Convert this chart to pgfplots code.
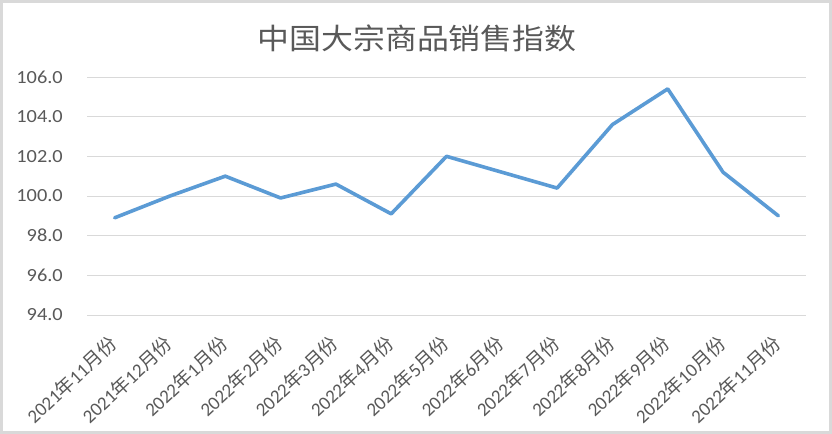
\documentclass[border=0pt]{standalone}
\usepackage{pgfplots}
\pgfplotsset{compat=1.18}
\usepackage{fontspec}
\setmainfont{Carlito}
\newfontfamily\cjk{Noto Sans CJK SC}
\definecolor{linblue}{HTML}{5B9BD5}
\definecolor{txtgray}{HTML}{595959}
\definecolor{gridgray}{HTML}{D9D9D9}
\newcommand\lab[2]{#1{\cjk 年}#2{\cjk 月份}}

\begin{document}
\begin{tikzpicture}
\path[use as bounding box] (0,0) rectangle (832bp,434bp);
\fill[white] (0,0) rectangle (832bp,434bp);
\draw[gridgray, line width=3bp] (1.5bp,1.5bp) rectangle (830.5bp,432.5bp);
\node[txtgray, font=\fontsize{29bp}{32bp}\selectfont\cjk] at (417bp,396bp)
    {\scalebox{1.1}[1]{中国大宗商品销售指数}};
\begin{axis}[
    at={(87bp,119bp)}, anchor=south west,
    scale only axis, width=719bp, height=238bp,
    xmin=-0.5, xmax=12.5, ymin=94, ymax=106,
    ytick={94,96,...,106},
    yticklabel={\scalebox{1.1}[1]{\pgfmathprintnumber{\tick}}},
    xtick={0,...,12},
    xticklabels={\lab{2021}{11},\lab{2021}{12},\lab{2022}{1},\lab{2022}{2},
        \lab{2022}{3},\lab{2022}{4},\lab{2022}{5},\lab{2022}{6},\lab{2022}{7},
        \lab{2022}{8},\lab{2022}{9},\lab{2022}{10},\lab{2022}{11}},
    axis line style={draw=none},
    major tick length=0pt,
    ymajorgrids,
    grid style={gridgray, line width=0.9bp},
    yticklabel style={font=\fontsize{18.5bp}{22bp}\selectfont, text=txtgray,
        anchor=east, inner sep=0pt, xshift=-24bp},
    xticklabel style={font=\fontsize{19bp}{22bp}\selectfont, text=txtgray,
        xshift=-7bp, yshift=-19bp, rotate=43, anchor=north east, inner sep=0pt},
    /pgf/number format/.cd, fixed, fixed zerofill, precision=1,
        assume math mode=true,
]
    \addplot[linblue, line width=3.6bp, line join=round, line cap=round, mark=none]
    coordinates {
        (0, 98.9)
        (1, 100.0)
        (2, 101.0)
        (3, 99.9)
        (4, 100.6)
        (5, 99.1)
        (6, 102.0)
        (7, 101.2)
        (8, 100.4)
        (9, 103.6)
        (10, 105.4)
        (11, 101.2)
        (12, 99.0)
    };
\end{axis}
\end{tikzpicture}
\end{document}
